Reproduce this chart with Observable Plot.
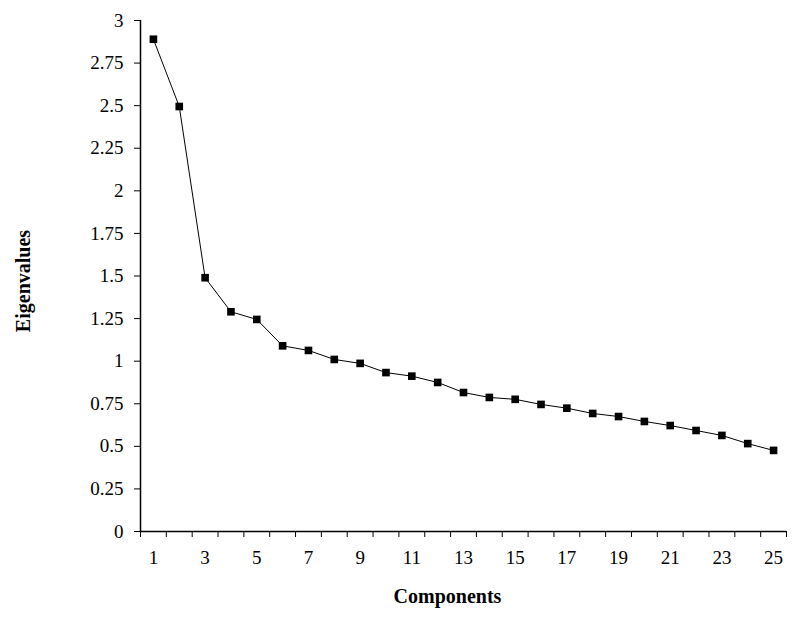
<!DOCTYPE html>
<html>
<head>
<meta charset="utf-8">
<script src="https://cdn.jsdelivr.net/npm/d3@7"></script>
<script src="https://cdn.jsdelivr.net/npm/@observablehq/plot@0.6"></script>
<style>
  html, body { margin: 0; padding: 0; background: #fff; }
  #chart svg { display: block; }
  #chart svg text { font-family: 'Liberation Serif', 'Times New Roman', serif; }
</style>
</head>
<body>
<div id="chart"></div>
<script>
const components = d3.range(1, 26);
const eigenvalues = [2.89, 2.495, 1.49, 1.29, 1.245, 1.09, 1.063, 1.01, 0.987, 0.933,
  0.912, 0.875, 0.816, 0.787, 0.776, 0.746, 0.724, 0.693, 0.675, 0.646,
  0.622, 0.593, 0.564, 0.516, 0.476];
const xTickLabels = components.filter(d => d % 2 === 1);
const yTicks = d3.range(0, 3.001, 0.25);
const xTitle = "Components";
const yTitle = "Eigenvalues";

const data = components.map((c, i) => ({component: c, value: eigenvalues[i]}));
const xDomain = [components[0] - 0.5, components[components.length - 1] + 0.5];
const boundaries = d3.range(xDomain[0], xDomain[1] + 0.001, 1);

const font = "'Liberation Serif', 'Times New Roman', serif";

const chart = Plot.plot({
  width: 798,
  height: 622,
  marginLeft: 140,
  marginRight: 12,
  marginTop: 20,
  marginBottom: 91,
  style: {fontFamily: font, fontSize: "19px", color: "#000", background: "#fff"},
  x: {type: "linear", domain: xDomain},
  y: {domain: [0, 3]},
  marks: [
    Plot.axisY({ticks: yTicks, tickSize: 6, tickPadding: 11, tickFormat: d => String(d), label: null, fontSize: 19, fontFamily: font, fontVariant: "normal"}),
    Plot.axisX({ticks: boundaries, tickSize: 6, tickFormat: () => "", label: null}),
    Plot.axisX({ticks: xTickLabels, tickSize: 0, tickPadding: 19, tickFormat: d => String(d), label: null, fontSize: 19, fontFamily: font, fontVariant: "normal"}),
    Plot.ruleY([0], {stroke: "#000", strokeWidth: 1.5}),
    Plot.ruleX([xDomain[0]], {stroke: "#000", strokeWidth: 1.5}),
    Plot.line(data, {x: "component", y: "value", stroke: "#000", strokeWidth: 1}),
    Plot.dot(data, {x: "component", y: "value", symbol: "square", r: 4.3, fill: "#000", stroke: "none"}),
    Plot.text([xTitle], {frameAnchor: "bottom", dy: 71, dx: -16, text: d => d, textAnchor: "middle", fontSize: 20, fontWeight: "bold", fontFamily: font, fill: "#000"}),
    Plot.text([yTitle], {frameAnchor: "left", dx: -117, dy: 5, rotate: -90, text: d => d, textAnchor: "middle", lineAnchor: "middle", fontSize: 20, fontWeight: "bold", fontFamily: font, fill: "#000"})
  ]
});
document.getElementById("chart").append(chart);
</script>
</body>
</html>
